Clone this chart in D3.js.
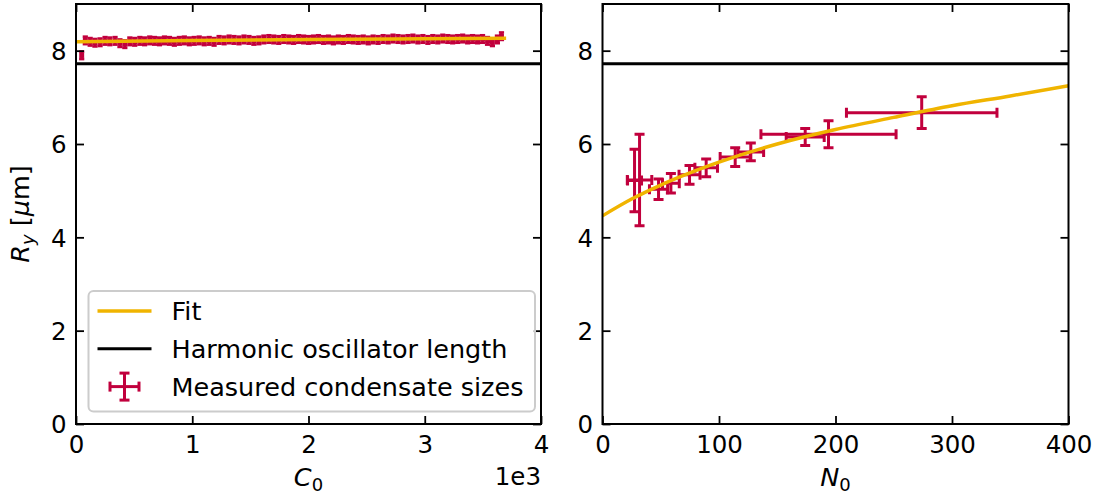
<!DOCTYPE html>
<html>
<head>
<meta charset="utf-8">
<script src="https://cdn.jsdelivr.net/npm/d3@7"></script>
<style>
  body { margin: 0; background: #fff; }
  svg text { font-family: "DejaVu Sans", sans-serif; fill: #000; }
</style>
</head>
<body>
<div id="chart"></div>
<script>
// data
var harmonicLength = 7.72;

// left panel: [C0, Ry]
var leftFirst = [[49, 7.90]];
var leftPoints = [
  [80, 8.22], [122, 8.19], [163, 8.17], [207, 8.18], [250, 8.21], [291, 8.20], [336, 8.21], [378, 8.16],
  [420, 8.14], [463, 8.20], [505, 8.19], [549, 8.21], [590, 8.20], [634, 8.22], [676, 8.21], [718, 8.20],
  [761, 8.22], [804, 8.21], [846, 8.19], [889, 8.21], [932, 8.22], [975, 8.20], [1017, 8.21], [1060, 8.22],
  [1103, 8.20], [1146, 8.21], [1188, 8.19], [1231, 8.23], [1274, 8.22], [1317, 8.24], [1359, 8.23], [1402, 8.22],
  [1445, 8.24], [1488, 8.23], [1530, 8.21], [1573, 8.22], [1616, 8.24], [1659, 8.25], [1701, 8.24], [1744, 8.23],
  [1787, 8.25], [1830, 8.24], [1872, 8.23], [1915, 8.25], [1958, 8.24], [2001, 8.23], [2043, 8.24], [2086, 8.25],
  [2129, 8.23], [2172, 8.24], [2214, 8.22], [2257, 8.24], [2300, 8.23], [2343, 8.25], [2385, 8.24], [2428, 8.23],
  [2471, 8.24], [2514, 8.22], [2556, 8.24], [2599, 8.23], [2642, 8.25], [2685, 8.24], [2727, 8.26], [2770, 8.25],
  [2813, 8.24], [2856, 8.25], [2898, 8.26], [2941, 8.24], [2984, 8.25], [3027, 8.23], [3069, 8.25], [3112, 8.24],
  [3155, 8.26], [3198, 8.25], [3240, 8.24], [3283, 8.25], [3326, 8.26], [3369, 8.24], [3411, 8.25], [3454, 8.24],
  [3497, 8.25], [3540, 8.21], [3582, 8.18], [3625, 8.24], [3660, 8.31]
];
var leftXErr = 10;
var leftYErr = 0.08;
var leftFit = [[0, 8.19], [1000, 8.22], [2000, 8.24], [3000, 8.255], [3700, 8.265]];

// right panel
var rightN    = [27.5, 31.8, 48.1, 58.7, 74.7, 89, 113.9, 127.3, 174, 194, 274];
var rightNErr = [6, 10.5, 7.8, 7.2, 9, 9.7, 12.9, 11, 16.3, 58, 64.6];
var rightRy   = [5.22, 5.23, 5.03, 5.16, 5.34, 5.49, 5.72, 5.83, 6.15, 6.21, 6.67];
var rightRyErr = [0.67, 0.98, 0.22, 0.21, 0.20, 0.19, 0.20, 0.19, 0.18, 0.29, 0.34];
var rightFit = [[0, 4.46], [25, 4.82], [50, 5.12], [75, 5.38], [100, 5.61], [150, 6.0], [200, 6.31],
  [250, 6.57], [300, 6.82], [350, 7.03], [400, 7.25]];

var leftTicks = [0, 1000, 2000, 3000, 4000];
var rightTicks = [0, 100, 200, 300, 400];
var yTicks = [0, 2, 4, 6, 8];

var totalWidth = 1097, totalHeight = 498;
var top0 = 4, bottom0 = 424;
var red = "#c1003d", orange = "#f0b400";
var fontSize = 24.5;
var legendFont = 25.5;

var svg = d3.select("#chart").append("svg")
    .attr("width", totalWidth)
    .attr("height", totalHeight);

var y = d3.scaleLinear().domain([0, 9]).range([bottom0, top0]);

function drawErr(g, xs, pts, capPx, sw) {
    pts.forEach(function(p) {
        var cx = xs(p.x), cy = y(p.y);
        var xl = xs(p.x - p.xe), xr = xs(p.x + p.xe);
        var yt = y(p.y + p.ye), yb = y(p.y - p.ye);
        var segs = [
            [xl, cy, xr, cy], [cx, yt, cx, yb],
            [xl, cy - capPx, xl, cy + capPx], [xr, cy - capPx, xr, cy + capPx],
            [cx - capPx, yt, cx + capPx, yt], [cx - capPx, yb, cx + capPx, yb]
        ];
        segs.forEach(function(s) {
            g.append("line")
                .attr("x1", s[0]).attr("y1", s[1]).attr("x2", s[2]).attr("y2", s[3])
                .attr("stroke", red).attr("stroke-width", sw);
        });
    });
}

function panel(x0, x1, domain, ticks, fmt) {
    var x = d3.scaleLinear().domain(domain).range([x0, x1]);
    var g = svg.append("g");

    var clipId = "clip" + Math.round(x0);
    svg.append("defs").append("clipPath").attr("id", clipId)
        .append("rect").attr("x", x0).attr("y", top0).attr("width", x1 - x0).attr("height", bottom0 - top0);

    var plot = g.append("g").attr("clip-path", "url(#" + clipId + ")");

    // axes, ticks pointing in on all four sides
    var bottomAx = g.append("g").attr("transform", "translate(0," + bottom0 + ")")
        .call(d3.axisBottom(x).tickValues(ticks).tickFormat(fmt).tickSizeInner(-8).tickSizeOuter(0).tickPadding(11.5));
    var topAx = g.append("g").attr("transform", "translate(0," + top0 + ")")
        .call(d3.axisTop(x).tickValues(ticks).tickFormat("").tickSizeInner(-8).tickSizeOuter(0));
    var leftAx = g.append("g").attr("transform", "translate(" + x0 + ",0)")
        .call(d3.axisLeft(y).tickValues(yTicks).tickSizeInner(-8).tickSizeOuter(0).tickPadding(9.5));
    var rightAx = g.append("g").attr("transform", "translate(" + x1 + ",0)")
        .call(d3.axisRight(y).tickValues(yTicks).tickFormat("").tickSizeInner(-8).tickSizeOuter(0));

    [bottomAx, topAx, leftAx, rightAx].forEach(function(a) {
        a.select(".domain").remove();
        a.selectAll(".tick line").attr("stroke", "#000").attr("stroke-width", 1.8);
        a.selectAll(".tick text").attr("font-size", fontSize).attr("font-family", "DejaVu Sans");
    });
    leftAx.selectAll(".tick text").attr("dy", "0.36em");

    g.append("rect")
        .attr("x", x0).attr("y", top0).attr("width", x1 - x0).attr("height", bottom0 - top0)
        .attr("fill", "none").attr("stroke", "#000").attr("stroke-width", 2);

    return { x: x, g: g, plot: plot };
}

var line = function(x) {
    return d3.line().x(function(d) { return x(d[0]); }).y(function(d) { return y(d[1]); }).curve(d3.curveMonotoneX);
};

// ---- left panel
var L = panel(76, 541, [0, 4000], leftTicks, function(d) { return d / 1000; });
var leftPts = leftFirst.concat(leftPoints).map(function(p) {
    return { x: p[0], y: p[1], xe: leftXErr, ye: leftYErr };
});
drawErr(L.plot, L.x, leftPts, 2.6, 2.6);
L.plot.append("path").datum(leftFit)
    .attr("d", line(L.x)).attr("fill", "none").attr("stroke", orange).attr("stroke-width", 3.5);
L.plot.append("line")
    .attr("x1", L.x(0)).attr("x2", L.x(4000)).attr("y1", y(harmonicLength)).attr("y2", y(harmonicLength))
    .attr("stroke", "#000").attr("stroke-width", 3);

// ---- right panel
var R = panel(602.5, 1068.5, [0, 400], rightTicks, function(d) { return d; });
var rightPts = rightN.map(function(n, i) {
    return { x: n, y: rightRy[i], xe: rightNErr[i], ye: rightRyErr[i] };
});
drawErr(R.plot, R.x, rightPts, 5, 3);
R.plot.append("path").datum(rightFit)
    .attr("d", line(R.x)).attr("fill", "none").attr("stroke", orange).attr("stroke-width", 3.5);
R.plot.append("line")
    .attr("x1", R.x(0)).attr("x2", R.x(400)).attr("y1", y(harmonicLength)).attr("y2", y(harmonicLength))
    .attr("stroke", "#000").attr("stroke-width", 3);

// ---- axis labels
var xl1 = svg.append("text").attr("x", 308.5).attr("y", 486).attr("text-anchor", "middle").attr("font-size", legendFont);
xl1.append("tspan").attr("font-style", "italic").text("C");
xl1.append("tspan").attr("dy", 5).attr("font-size", 18).text("0");

svg.append("text").attr("x", 541).attr("y", 485).attr("text-anchor", "end").attr("font-size", fontSize).text("1e3");

var xl2 = svg.append("text").attr("x", 835.5).attr("y", 486).attr("text-anchor", "middle").attr("font-size", legendFont);
xl2.append("tspan").attr("font-style", "italic").text("N");
xl2.append("tspan").attr("dy", 5).attr("font-size", 18).text("0");

var yl = svg.append("text").attr("transform", "translate(28.5,214) rotate(-90)")
    .attr("text-anchor", "middle").attr("font-size", legendFont);
yl.append("tspan").attr("font-style", "italic").text("R");
yl.append("tspan").attr("font-style", "italic").attr("dy", 5).attr("font-size", 18).text("y");
yl.append("tspan").attr("dy", -5).text(" [");
yl.append("tspan").attr("font-style", "italic").text("\u03bc");
yl.append("tspan").text("m]");

// ---- legend
var legend = svg.append("g");
legend.append("rect")
    .attr("x", 88.5).attr("y", 291).attr("width", 446.5).attr("height", 120.5).attr("rx", 5)
    .attr("fill", "#fff").attr("fill-opacity", 0.8).attr("stroke", "#cccccc").attr("stroke-width", 2);

var items = [
    { label: "Fit", kind: "line", color: orange },
    { label: "Harmonic oscillator length", kind: "line", color: "#000" },
    { label: "Measured condensate sizes", kind: "err", color: red }
];
items.forEach(function(d, i) {
    var ry = 311 + i * 37.8;
    if (d.kind == "line") {
        legend.append("line").attr("x1", 97.5).attr("x2", 151.5).attr("y1", ry).attr("y2", ry)
            .attr("stroke", d.color).attr("stroke-width", d.color == orange ? 3.5 : 3);
    } else {
        var lx = d3.scaleLinear().domain([-1, 1]).range([110, 139]);
        var saveY = y;
        y = d3.scaleLinear().domain([-1, 1]).range([ry + 13.5, ry - 13.5]);
        drawErr(legend, lx, [{ x: 0, y: 0, xe: 1, ye: 1 }], 5, 3);
        y = saveY;
    }
    legend.append("text").attr("x", 171.5).attr("y", ry).attr("dy", "0.35em")
        .attr("font-size", legendFont).text(d.label);
});
</script>
</body>
</html>
